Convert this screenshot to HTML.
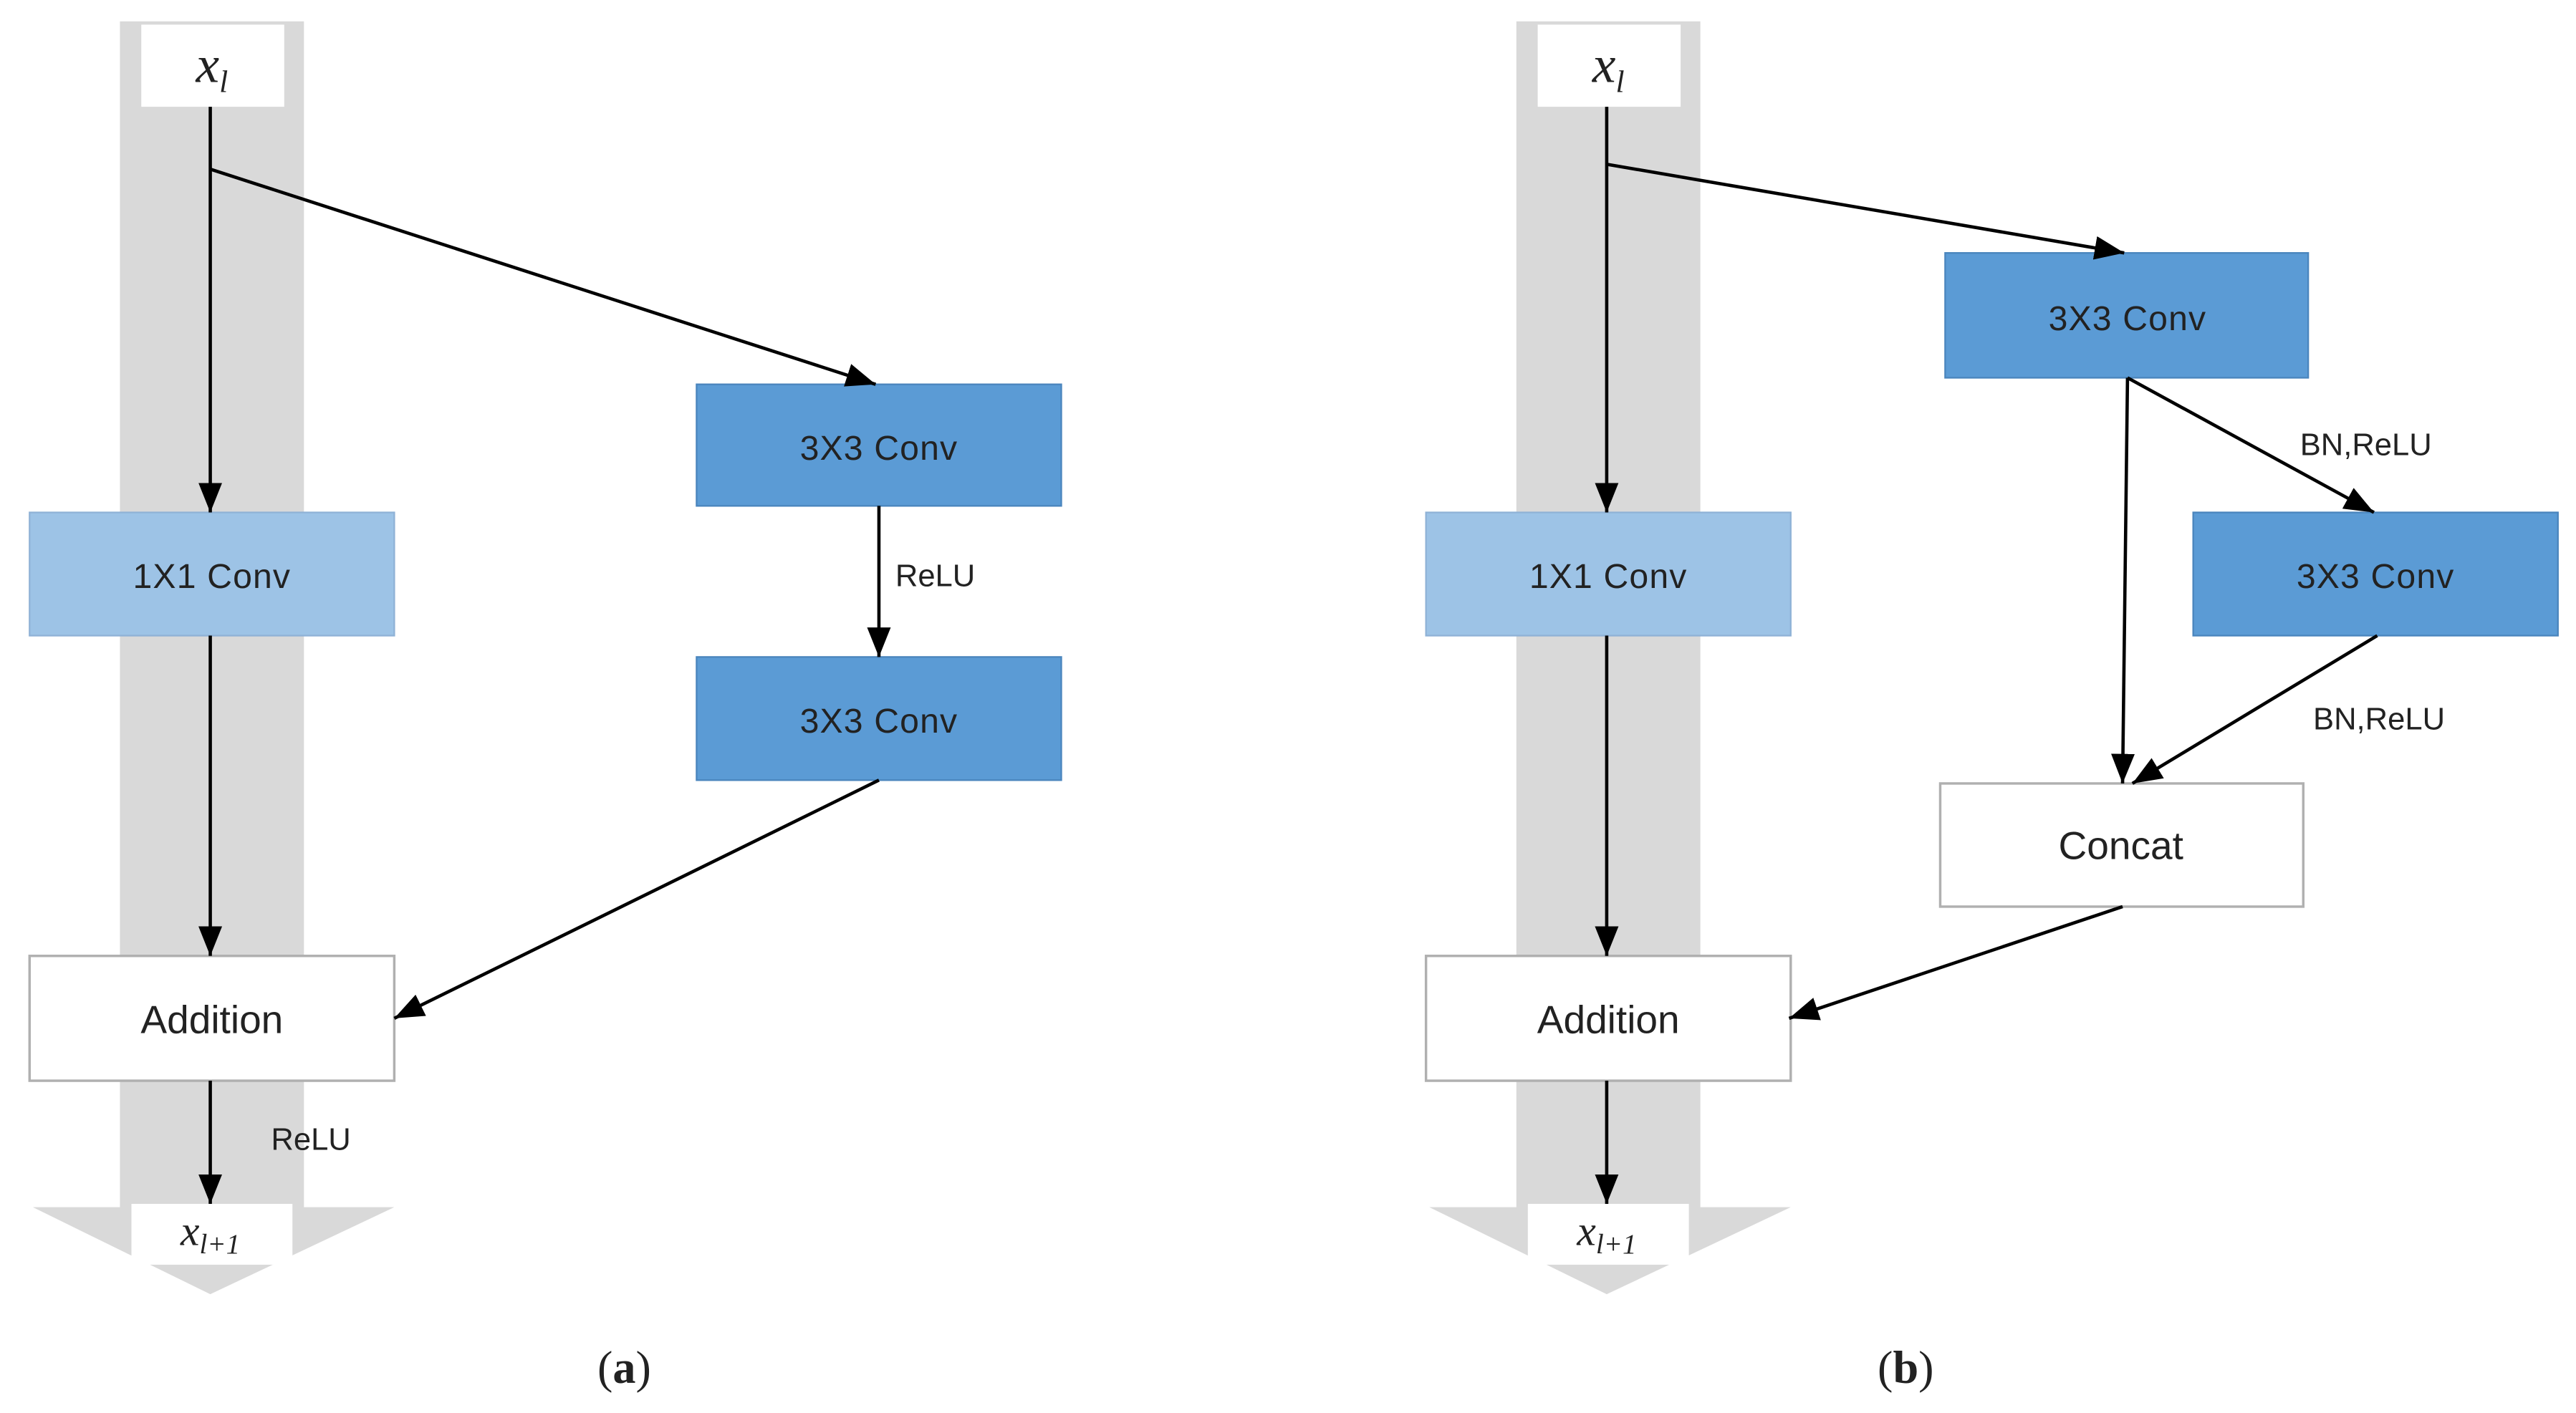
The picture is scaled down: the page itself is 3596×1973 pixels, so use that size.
<!DOCTYPE html>
<html><head><meta charset="utf-8"><style>
html,body{margin:0;padding:0;background:#fff;}
svg{display:block;}
text{font-family:"Liberation Sans",sans-serif;fill:#222;}
.m{font-family:"Liberation Serif",serif;font-style:italic;}
.c{font-size:21px;letter-spacing:0.5px;}
</style></head><body>
<svg width="3596" height="1973" viewBox="0 0 1568 860.3" xmlns="http://www.w3.org/2000/svg">
<defs>
<marker id="a" viewBox="0 0 10 10" refX="10" refY="5" markerWidth="18" markerHeight="18" markerUnits="userSpaceOnUse" orient="auto"><path d="M0,1 L10,5 L0,9 z" fill="#000"/></marker>
</defs>
<g id="L">
<rect x="73" y="13" width="112" height="725" fill="#d9d9d9"/>
<polygon points="20,735 240,735 128,788" fill="#d9d9d9"/>
<rect x="86" y="15" width="87" height="50" fill="#fff"/>
<text x="129" y="50" font-size="32" text-anchor="middle" class="m">x<tspan font-size="19" dy="6">l</tspan></text>
<rect x="80" y="733" width="98" height="37" fill="#fff"/>
<text x="128" y="758" font-size="26" text-anchor="middle" class="m">x<tspan font-size="17" dy="5">l+1</tspan></text>
<rect x="18" y="312" width="222" height="75" fill="#9dc3e6" stroke="#8fb2d6"/>
<text x="129" y="358" class="c" text-anchor="middle">1X1  Conv</text>
<rect x="18" y="582" width="222" height="76" fill="#fff" stroke="#b0b0b0" stroke-width="1.5"/>
<text x="129" y="629" font-size="24" text-anchor="middle">Addition</text>
<line x1="128" y1="65" x2="128" y2="312" stroke="#000" stroke-width="2" marker-end="url(#a)"/>
<line x1="128" y1="387" x2="128" y2="582" stroke="#000" stroke-width="2" marker-end="url(#a)"/>
<line x1="128" y1="658" x2="128" y2="733" stroke="#000" stroke-width="2" marker-end="url(#a)"/>
</g>
<rect x="424" y="234" width="222" height="74" fill="#5b9bd5" stroke="#4a85bd"/>
<text x="535" y="280" class="c" text-anchor="middle">3X3  Conv</text>
<rect x="424" y="400" width="222" height="75" fill="#5b9bd5" stroke="#4a85bd"/>
<text x="535" y="446" class="c" text-anchor="middle">3X3  Conv</text>
<line x1="128" y1="103" x2="533" y2="234" stroke="#000" stroke-width="2" marker-end="url(#a)"/>
<line x1="535" y1="308" x2="535" y2="400" stroke="#000" stroke-width="2" marker-end="url(#a)"/>
<text x="545" y="357" font-size="19">ReLU</text>
<line x1="535" y1="475" x2="240" y2="620" stroke="#000" stroke-width="2" marker-end="url(#a)"/>
<text x="165" y="700" font-size="19">ReLU</text>
<text x="380" y="842" font-size="28" text-anchor="middle" style="font-family:'Liberation Serif',serif">(<tspan font-weight="bold">a</tspan>)</text>

<use href="#L" x="850"/>
<rect x="1184" y="154" width="221" height="76" fill="#5b9bd5" stroke="#4a85bd"/>
<text x="1295" y="201" class="c" text-anchor="middle">3X3  Conv</text>
<rect x="1335" y="312" width="222" height="75" fill="#5b9bd5" stroke="#4a85bd"/>
<text x="1446" y="358" class="c" text-anchor="middle">3X3  Conv</text>
<rect x="1181" y="477" width="221" height="75" fill="#fff" stroke="#b0b0b0" stroke-width="1.5"/>
<text x="1291" y="523" font-size="24" text-anchor="middle">Concat</text>
<line x1="978" y1="100" x2="1293" y2="154" stroke="#000" stroke-width="2" marker-end="url(#a)"/>
<line x1="1295" y1="230" x2="1292" y2="477" stroke="#000" stroke-width="2" marker-end="url(#a)"/>
<line x1="1295" y1="230" x2="1445" y2="312" stroke="#000" stroke-width="2" marker-end="url(#a)"/>
<line x1="1447" y1="387" x2="1298" y2="477" stroke="#000" stroke-width="2" marker-end="url(#a)"/>
<line x1="1292" y1="552" x2="1089" y2="620" stroke="#000" stroke-width="2" marker-end="url(#a)"/>
<text x="1400" y="277" font-size="19">BN,ReLU</text>
<text x="1408" y="444" font-size="19">BN,ReLU</text>
<text x="1160" y="842" font-size="28" text-anchor="middle" style="font-family:'Liberation Serif',serif">(<tspan font-weight="bold">b</tspan>)</text>
</svg>
</body></html>
